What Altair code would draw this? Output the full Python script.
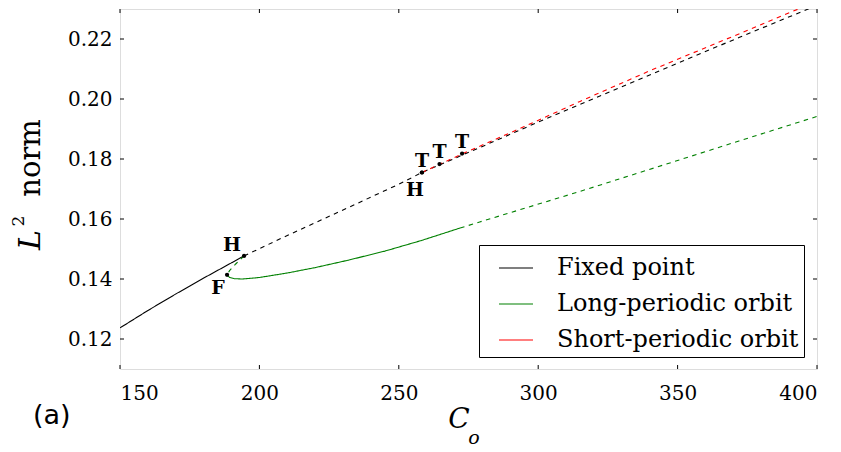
import altair as alt
import pandas as pd

# ---- data ----
# Fixed point branch
fp_stable_C = [150, 160, 170, 180, 190, 194.5]
fp_stable_L = [0.1237, 0.1295, 0.1350, 0.1403, 0.1454, 0.1477]
fp_unstable_C = [194.5, 210, 230, 250, 258.3, 280, 300, 315, 340, 372, 400]
fp_unstable_L = [0.1477, 0.1545, 0.1630, 0.1716, 0.1755, 0.1842, 0.1923, 0.1982, 0.2080, 0.2205, 0.2312]

# Long-periodic orbit branch
lp_unst1_C = [194.5, 191.5, 189.3, 188.4]
lp_unst1_L = [0.1477, 0.1450, 0.1428, 0.1414]
lp_stable_C = [188.4, 189.3, 191, 194, 200, 210, 220, 232, 245, 258, 272]
lp_stable_L = [0.1414, 0.1405, 0.1401, 0.1400, 0.1405, 0.1420, 0.1438, 0.1463, 0.1493, 0.1528, 0.1570]
lp_unst2_C = [272, 279, 315, 350, 372, 398, 400]
lp_unst2_L = [0.1570, 0.1590, 0.1692, 0.1795, 0.1860, 0.1936, 0.1942]

# Short-periodic orbit branch
sp_unst_C = [258.3, 265, 273, 295, 315, 340, 372, 400]
sp_unst_L = [0.1755, 0.1784, 0.1818, 0.1908, 0.1992, 0.2094, 0.2217, 0.2326]

# Bifurcation points
pt_id = ["H1", "F", "H2", "T1", "T2", "T3"]
pt_label = ["H", "F", "H", "T", "T", "T"]
pt_C = [194.5, 188.4, 258.3, 258.3, 264.6, 272.7]
pt_L = [0.1477, 0.1414, 0.1755, 0.1755, 0.1783, 0.1818]

x_ticks = [150, 200, 250, 300, 350, 400]
y_ticks = [0.12, 0.14, 0.16, 0.18, 0.20, 0.22]

branches = ["Fixed point", "Long-periodic orbit", "Short-periodic orbit"]
colors = ["#000000", "#008000", "#ff0000"]

segments = [
    ("fp_s", branches[0], "solid", fp_stable_C, fp_stable_L),
    ("fp_u", branches[0], "dashed", fp_unstable_C, fp_unstable_L),
    ("lp_u1", branches[1], "dashed", lp_unst1_C, lp_unst1_L),
    ("lp_s", branches[1], "solid", lp_stable_C, lp_stable_L),
    ("lp_u2", branches[1], "dashed", lp_unst2_C, lp_unst2_L),
    ("sp_u", branches[2], "dashed", sp_unst_C, sp_unst_L),
]
rows = []
for seg, br, dash, cs, ls in segments:
    for i, (c, l) in enumerate(zip(cs, ls)):
        rows.append({"seg": seg, "branch": br, "dash": dash, "idx": i, "C": c, "L2": l})
lines_df = pd.DataFrame(rows)
pts_df = pd.DataFrame({"id": pt_id, "label": pt_label, "C": pt_C, "L2": pt_L})
xt_df = pd.DataFrame({"v": x_ticks})
yt_df = pd.DataFrame({"v": y_ticks})
one = pd.DataFrame({"k": [0]})

W, H = 697, 360
SERIF = "DejaVu Serif"

xs = alt.Scale(domain=[150, 400], nice=False, zero=False)
ys = alt.Scale(domain=[0.11, 0.23], nice=False, zero=False)

x_axis = alt.Axis(values=x_ticks, ticks=False, domain=False, grid=False,
                  labelFont=SERIF, labelFontSize=20, labelColor="black",
                  labelPadding=14, title=None)
y_axis = alt.Axis(values=y_ticks, ticks=False, domain=False, grid=False, format=".2f",
                  labelFont=SERIF, labelFontSize=20, labelColor="black",
                  labelPadding=8, title=None)

lines = alt.Chart(lines_df).mark_line(strokeWidth=1.1, clip=True).encode(
    x=alt.X("C:Q", scale=xs, axis=x_axis),
    y=alt.Y("L2:Q", scale=ys, axis=y_axis),
    color=alt.Color("branch:N", scale=alt.Scale(domain=branches, range=colors),
                    legend=alt.Legend(title=None, orient="none", legendX=359, legendY=236,
                                      symbolType="stroke", symbolSize=1156, symbolStrokeWidth=1.2,
                                      labelFont=SERIF, labelFontSize=24, labelColor="black",
                                      labelLimit=500, labelOffset=23, rowPadding=6,
                                      padding=5, symbolOffset=14,
                                      strokeColor="black", fillColor="white",
                                      cornerRadius=0)),
    strokeDash=alt.StrokeDash("dash:N", scale=alt.Scale(domain=["solid", "dashed"], range=[[1, 0], [4.5, 4.5]]),
                              legend=None),
    detail="seg:N",
    order="idx:Q",
)

dots = alt.Chart(pts_df).mark_circle(size=18, color="black", opacity=1).encode(
    x=alt.X("C:Q", scale=xs), y=alt.Y("L2:Q", scale=ys)
)

def lab(ids, dx, dy):
    return alt.Chart(pts_df).transform_filter(
        alt.FieldOneOfPredicate(field="id", oneOf=ids)
    ).mark_text(font=SERIF, fontSize=19, fontWeight="bold", color="black",
                dx=dx, dy=dy, baseline="middle", align="center").encode(
        x=alt.X("C:Q", scale=xs), y=alt.Y("L2:Q", scale=ys), text="label:N"
    )

labels = [lab(["H1"], -12, -11), lab(["F"], -9, 13), lab(["H2"], -7, 17),
          lab(["T1", "T2", "T3"], 0, -12)]

# inward ticks on all four sides
tb = alt.Chart(xt_df).mark_rule(color="black", strokeWidth=1).encode(
    x=alt.X("v:Q", scale=xs), y=alt.value(H), y2=alt.value(H - 4))
tt = alt.Chart(xt_df).mark_rule(color="black", strokeWidth=1).encode(
    x=alt.X("v:Q", scale=xs), y=alt.value(0), y2=alt.value(4))
tl = alt.Chart(yt_df).mark_rule(color="black", strokeWidth=1).encode(
    y=alt.Y("v:Q", scale=ys), x=alt.value(0), x2=alt.value(4))
tr = alt.Chart(yt_df).mark_rule(color="black", strokeWidth=1).encode(
    y=alt.Y("v:Q", scale=ys), x=alt.value(W - 4), x2=alt.value(W))

def txt(s, x, y, size, style="normal", font=SERIF, angle=0, align="center", baseline="alphabetic"):
    kw = dict(font=font, fontSize=size, fontStyle=style, color="black",
              align=align, baseline=baseline)
    if angle:
        kw["angle"] = angle
    return alt.Chart(one).mark_text(**kw).encode(
        x=alt.value(x), y=alt.value(y), text=alt.value(s))

titles = [
    txt("C", 339, 419, 28, "italic"),
    txt("o", 354, 435, 19, "italic"),
    txt("norm", -80, 149, 29, angle=270),
    txt("2", -96, 212, 17, angle=270),
    txt("L", -80, 231, 30, "italic", angle=270),
    txt("(a)", -87, 415, 27, font="DejaVu Sans", align="left"),
]

chart = alt.layer(lines, *labels, dots, tb, tt, tl, tr, *titles).properties(
    width=W, height=H,
    autosize=alt.AutoSizeParams(type="none"),
    padding={"left": 112, "top": 1, "right": 10, "bottom": 80},
).configure_view(stroke="black", strokeWidth=1).configure(background="white")

chart.save("out.html", embed_options={"renderer": "svg", "actions": False})
